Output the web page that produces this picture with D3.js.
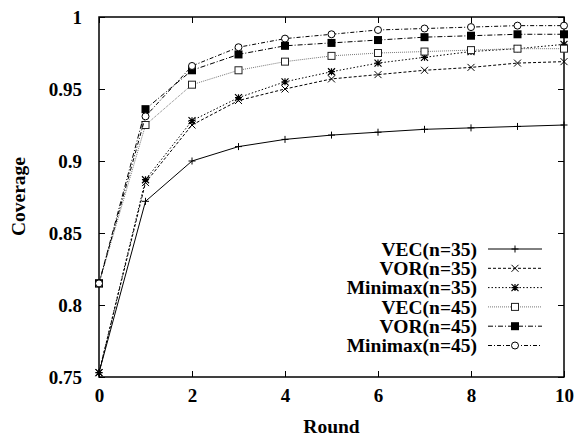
<!DOCTYPE html>
<html>
<head>
<meta charset="utf-8">
<script src="https://cdn.jsdelivr.net/npm/d3@7"></script>
</head>
<body style="margin:0; background:#fff">
<div id="chart"></div>
<script>
// rounds on the x axis
var rounds = [0, 1, 2, 3, 4, 5, 6, 7, 8, 9, 10];
var seriesNames = ["VEC(n=35)", "VOR(n=35)", "Minimax(n=35)", "VEC(n=45)", "VOR(n=45)", "Minimax(n=45)"];
var vec35 = [0.753, 0.872, 0.900, 0.910, 0.915, 0.918, 0.920, 0.922, 0.923, 0.924, 0.925];
var vor35 = [0.753, 0.885, 0.925, 0.942, 0.950, 0.957, 0.960, 0.963, 0.965, 0.968, 0.969];
var minimax35 = [0.753, 0.887, 0.928, 0.944, 0.955, 0.962, 0.968, 0.972, 0.976, 0.978, 0.981];
var vec45 = [0.815, 0.925, 0.953, 0.963, 0.969, 0.973, 0.975, 0.976, 0.977, 0.978, 0.978];
var vor45 = [0.815, 0.936, 0.963, 0.974, 0.980, 0.982, 0.984, 0.986, 0.987, 0.988, 0.988];
var minimax45 = [0.815, 0.931, 0.966, 0.979, 0.985, 0.988, 0.991, 0.992, 0.993, 0.994, 0.994];
var xTicks = [0, 2, 4, 6, 8, 10];
var yTicks = [0.75, 0.8, 0.85, 0.9, 0.95, 1];

var allSeries = [vec35, vor35, minimax35, vec45, vor45, minimax45];
// line style per series: dash pattern, colour, marker
var dashes = [null, "3,2", "1.5,2", "1,1", "5,2,1,2", "4,2,1,2"];
var strokes = ["#000", "#000", "#000", "#777", "#000", "#000"];
var markers = ["plus", "cross", "star", "square", "fsquare", "circle"];

var width = 574, height = 437;
var margin = {left: 99, right: 10, top: 17, bottom: 60};
var fontFam = "Liberation Serif";

var svg = d3.select("#chart").append("svg")
    .attr("width", width)
    .attr("height", height);

var x = d3.scaleLinear().domain([0, 10]).range([margin.left, width - margin.right]);
var y = d3.scaleLinear().domain([0.75, 1]).range([height - margin.bottom, margin.top]);

var plotW = x(10) - x(0);
var plotH = y(0.75) - y(1);

// axes, ticks drawn inward and mirrored like gnuplot
svg.append("g")
    .attr("transform", "translate(0," + y(0.75) + ")")
    .call(d3.axisBottom(x).tickValues(xTicks).tickSizeInner(-6).tickSizeOuter(0).tickPadding(12).tickFormat(d3.format("d")));
svg.append("g")
    .attr("transform", "translate(0," + y(1) + ")")
    .call(d3.axisTop(x).tickValues(xTicks).tickSizeInner(-6).tickSizeOuter(0).tickFormat(""));
svg.append("g")
    .attr("transform", "translate(" + x(0) + ",0)")
    .call(d3.axisLeft(y).tickValues(yTicks).tickSizeInner(-6).tickSizeOuter(0).tickPadding(17).tickFormat(function (d) { return d3.format("")(+d.toFixed(2)); }));
svg.append("g")
    .attr("transform", "translate(" + x(10) + ",0)")
    .call(d3.axisRight(y).tickValues(yTicks).tickSizeInner(-6).tickSizeOuter(0).tickFormat(""));

svg.selectAll("g").attr("font-family", null).attr("font-size", null);
svg.selectAll(".domain").remove();
svg.selectAll(".tick line").attr("stroke", "#000").attr("stroke-width", 1);
svg.selectAll(".tick text")
    .style("font-family", fontFam)
    .style("font-weight", "bold")
    .style("font-size", "19px")
    .attr("fill", "#000");

svg.append("rect")
    .attr("x", x(0)).attr("y", y(1))
    .attr("width", plotW).attr("height", plotH)
    .attr("fill", "none").attr("stroke", "#000").attr("stroke-width", 1.5);

svg.append("text")
    .attr("x", (x(0) + x(10)) / 2).attr("y", 433)
    .attr("text-anchor", "middle")
    .style("font-family", fontFam)
    .style("font-weight", "bold")
    .style("font-size", "19.5px")
    .text("Round");
svg.append("text")
    .attr("transform", "translate(25," + 196.5 + ") rotate(-90)")
    .attr("text-anchor", "middle")
    .style("font-family", fontFam)
    .style("font-weight", "bold")
    .style("font-size", "19.5px")
    .text("Coverage");

function drawMarker(g, kind, cx, cy, color) {
    var s = 3.5;
    if (kind === "plus") {
        g.append("path").attr("d", "M" + (cx - s) + "," + cy + "H" + (cx + s) + "M" + cx + "," + (cy - s) + "V" + (cy + s))
            .attr("stroke", color).attr("stroke-width", 1);
    } else if (kind === "cross") {
        g.append("path").attr("d", "M" + (cx - s) + "," + (cy - s) + "L" + (cx + s) + "," + (cy + s) + "M" + (cx - s) + "," + (cy + s) + "L" + (cx + s) + "," + (cy - s))
            .attr("stroke", color).attr("stroke-width", 1);
    } else if (kind === "star") {
        g.append("path").attr("d", "M" + (cx - s) + "," + cy + "H" + (cx + s) + "M" + cx + "," + (cy - s) + "V" + (cy + s) +
            "M" + (cx - s) + "," + (cy - s) + "L" + (cx + s) + "," + (cy + s) + "M" + (cx - s) + "," + (cy + s) + "L" + (cx + s) + "," + (cy - s))
            .attr("stroke", color).attr("stroke-width", 1.2);
    } else if (kind === "square") {
        g.append("rect").attr("x", cx - s).attr("y", cy - s).attr("width", 2 * s).attr("height", 2 * s)
            .attr("fill", "#fff").attr("stroke", "#222").attr("stroke-width", 1);
    } else if (kind === "fsquare") {
        g.append("rect").attr("x", cx - 4).attr("y", cy - 4).attr("width", 8).attr("height", 8)
            .attr("fill", "#000");
    } else if (kind === "circle") {
        g.append("circle").attr("cx", cx).attr("cy", cy).attr("r", s)
            .attr("fill", "#fff").attr("stroke", "#000").attr("stroke-width", 1);
    }
}

var line = d3.line()
    .x(function (d, i) { return x(rounds[i]); })
    .y(function (d) { return y(d); });

allSeries.forEach(function (vals, k) {
    var g = svg.append("g");
    g.append("path")
        .attr("d", line(vals))
        .attr("fill", "none")
        .attr("stroke", strokes[k])
        .attr("stroke-width", 1)
        .attr("stroke-dasharray", dashes[k]);
    vals.forEach(function (v, i) {
        drawMarker(g, markers[k], x(rounds[i]), y(v), strokes[k] === "#777" ? "#333" : "#000");
    });
});

// legend
var legendRight = 477, lineX0 = 488, lineX1 = 542, legendTop = 249, rowH = 19.3;
seriesNames.forEach(function (name, k) {
    var ly = legendTop + k * rowH;
    svg.append("text")
        .attr("x", legendRight).attr("y", ly)
        .attr("dy", "0.35em")
        .attr("text-anchor", "end")
        .style("font-family", fontFam)
        .style("font-weight", "bold")
        .style("font-size", "19.5px")
        .text(name);
    svg.append("line")
        .attr("x1", lineX0).attr("x2", lineX1)
        .attr("y1", ly).attr("y2", ly)
        .attr("stroke", strokes[k])
        .attr("stroke-width", 1)
        .attr("stroke-dasharray", dashes[k]);
    drawMarker(svg, markers[k], (lineX0 + lineX1) / 2, ly, strokes[k] === "#777" ? "#333" : "#000");
});
</script>
</body>
</html>
